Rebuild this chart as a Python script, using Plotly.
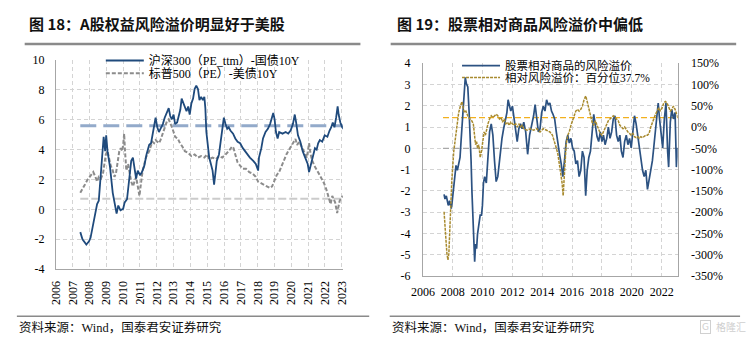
import plotly.graph_objects as go

W, H = 749, 353

# ---------------- data: left panel (图18) ----------------
cn_years = [2007.45, 2007.58, 2007.81, 2007.97, 2008.06, 2008.22, 2008.35, 2008.45, 2008.55, 2008.64,
            2008.74, 2008.84, 2008.93, 2008.99, 2009.07, 2009.22, 2009.38, 2009.51, 2009.61, 2009.71,
            2009.84, 2010.0, 2010.09, 2010.23, 2010.35, 2010.48, 2010.58, 2010.68, 2010.77, 2010.87,
            2011.0, 2011.12, 2011.26, 2011.39, 2011.55, 2011.66, 2011.74, 2011.84, 2011.93, 2012.03,
            2012.13, 2012.22, 2012.36, 2012.47, 2012.61, 2012.71, 2012.8, 2012.9, 2013.0, 2013.09,
            2013.21, 2013.29, 2013.4, 2013.48, 2013.58, 2013.67, 2013.77, 2013.87, 2013.96, 2014.06,
            2014.16, 2014.25, 2014.35, 2014.45, 2014.54, 2014.64, 2014.74, 2014.83, 2014.89, 2014.95,
            2015.03, 2015.12, 2015.22, 2015.32, 2015.41, 2015.49, 2015.57, 2015.7, 2015.8, 2015.9,
            2015.99, 2016.09, 2016.19, 2016.28, 2016.38, 2016.54, 2016.67, 2016.81, 2016.96, 2017.12,
            2017.25, 2017.39, 2017.54, 2017.74, 2017.89, 2018.03, 2018.08, 2018.22, 2018.32, 2018.47,
            2018.61, 2018.74, 2018.86, 2018.93, 2019.01, 2019.09, 2019.19, 2019.28, 2019.48, 2019.67,
            2019.82, 2019.96, 2020.1, 2020.21, 2020.29, 2020.4, 2020.54, 2020.68, 2020.83, 2020.98,
            2021.06, 2021.18, 2021.31, 2021.41, 2021.51, 2021.6, 2021.7, 2021.84, 2021.99, 2022.15,
            2022.28, 2022.38, 2022.47, 2022.57, 2022.67, 2022.76, 2022.82, 2022.92, 2023.03, 2023.11]
cn_erp = [-1.52, -2.0, -2.35, -2.14, -1.9, -1.03, -0.17, 0.36, 0.58, 1.75,
          3.25, 4.86, 3.9, 4.96, 3.9, 2.82, 1.11, 0.26, -0.28, 0.26,
          -0.06, 0.04, 0.47, 0.68, 1.75, 3.25, 3.47, 2.72, 2.07, 2.6,
          2.29, 2.5, 2.93, 3.68, 4.32, 4.43, 4.96, 5.5, 6.14, 5.5,
          5.18, 5.39, 5.71, 6.14, 6.57, 6.78, 6.25, 6.03, 6.35, 5.71,
          5.82, 6.25, 6.67, 7.42, 7.1, 6.78, 6.57, 6.89, 6.35, 7.1,
          7.42, 8.06, 8.28, 8.06, 7.32, 7.53, 7.32, 7.53, 6.78, 5.18,
          4.1, 3.47, 3.04, 2.6, 1.65, 2.72, 3.25, 3.68, 4.43, 5.39,
          6.14, 5.71, 5.39, 5.5, 5.28, 5.07, 4.75, 4.53, 4.43, 4.1,
          3.9, 3.68, 3.47, 3.25, 3.04, 2.6, 3.47, 4.1, 4.75, 5.18,
          5.39, 5.71, 6.14, 6.46, 6.03, 5.18, 4.75, 5.18, 5.07, 5.18,
          5.07, 5.28, 5.71, 6.35, 5.82, 4.96, 4.53, 3.9, 3.47, 3.04,
          2.5, 3.04, 3.57, 4.1, 4.0, 4.43, 4.64, 4.53, 4.96, 4.86,
          5.28, 5.5, 5.82, 5.5, 6.14, 6.89, 6.35, 5.82, 5.5, 5.39]

us_years = [2007.45, 2007.58, 2007.72, 2007.87, 2008.06, 2008.22, 2008.35, 2008.45, 2008.55, 2008.68,
            2008.8, 2008.88, 2008.97, 2009.07, 2009.19, 2009.26, 2009.38, 2009.48, 2009.57, 2009.67,
            2009.77, 2009.86, 2009.94, 2010.0, 2010.06, 2010.11, 2010.19, 2010.29, 2010.38, 2010.48,
            2010.58, 2010.68, 2010.77, 2010.87, 2010.97, 2011.06, 2011.16, 2011.26, 2011.35, 2011.45,
            2011.55, 2011.64, 2011.74, 2011.84, 2011.93, 2012.03, 2012.13, 2012.22, 2012.32, 2012.42,
            2012.51, 2012.61, 2012.71, 2012.8, 2012.9, 2013.0, 2013.09, 2013.25, 2013.38, 2013.52,
            2013.67, 2013.87, 2014.06, 2014.25, 2014.45, 2014.64, 2014.83, 2014.99, 2015.12, 2015.32,
            2015.51, 2015.7, 2015.9, 2016.09, 2016.28, 2016.48, 2016.57, 2016.67, 2016.81, 2016.96,
            2017.12, 2017.31, 2017.5, 2017.7, 2017.89, 2018.03, 2018.22, 2018.41, 2018.61, 2018.74,
            2018.86, 2018.99, 2019.13, 2019.28, 2019.44, 2019.57, 2019.71, 2019.82, 2019.96, 2020.1,
            2020.25, 2020.35, 2020.48, 2020.64, 2020.79, 2020.93, 2021.06, 2021.14, 2021.22, 2021.37,
            2021.51, 2021.64, 2021.8, 2021.95, 2022.09, 2022.22, 2022.34, 2022.44, 2022.53, 2022.61,
            2022.73, 2022.8, 2022.88, 2022.99, 2023.07]
us_erp = [1.11, 1.33, 1.65, 1.97, 2.29, 2.5, 2.18, 1.86, 2.18, 2.07,
          2.4, 3.04, 3.68, 3.9, 3.25, 2.93, 2.61, 2.18, 2.4, 3.25,
          3.9, 4.1, 3.9, 4.32, 5.07, 3.9, 2.6, 3.04, 2.4, 1.86,
          1.54, 1.86, 2.18, 1.54, 0.9, 1.75, 2.6, 3.04, 3.47, 3.68,
          3.9, 4.21, 4.53, 4.43, 4.64, 4.53, 4.43, 4.64, 4.96, 5.18,
          5.6, 5.92, 6.03, 5.71, 5.5, 5.18, 4.86, 4.75, 4.43, 4.21,
          3.9, 3.79, 3.57, 3.68, 3.47, 3.57, 3.47, 3.68, 3.36, 3.47,
          3.36, 3.57, 3.47, 3.68, 3.9, 4.21, 4.1, 3.68, 3.14, 2.93,
          2.72, 2.72, 2.5, 2.4, 2.18, 1.86, 1.75, 1.65, 1.54, 1.43,
          1.54, 1.97, 2.29, 2.5, 2.93, 3.36, 3.68, 3.9, 4.21, 4.43,
          4.71, 4.32, 4.53, 4.1, 3.79, 3.47, 4.43, 3.79, 3.36, 2.93,
          2.6, 2.4, 2.07, 1.75, 1.33, 0.9, 0.36, 0.9, 0.68, 0.47,
          -0.24, 0.26, 0.58, 0.79, 0.9]

cn_mean = 5.6
us_mean = 0.72

left_x_ticks = [2006, 2007, 2008, 2009, 2010, 2011, 2012, 2013, 2014, 2015,
                2016, 2017, 2018, 2019, 2020, 2021, 2022, 2023]
left_x_labels = [str(v) for v in left_x_ticks]
left_y_ticks = [-4, -2, 0, 2, 4, 6, 8, 10]
left_y_labels = ["-4", "-2", "0", "2", "4", "6", "8", "10"]

# ---------------- data: right panel (图19) ----------------
rel_years = [2007.42, 2007.48, 2007.57, 2007.70, 2007.79, 2007.90, 2007.96, 2008.05, 2008.14, 2008.22,
             2008.31, 2008.40, 2008.49, 2008.57, 2008.66, 2008.75, 2008.84, 2008.92, 2009.01, 2009.10,
             2009.16, 2009.23, 2009.29, 2009.36, 2009.42, 2009.47, 2009.53, 2009.60, 2009.66, 2009.75,
             2009.84, 2009.93, 2009.99, 2010.06, 2010.14, 2010.25, 2010.36, 2010.47, 2010.58, 2010.69,
             2010.80, 2010.91, 2011.02, 2011.10, 2011.19, 2011.30, 2011.41, 2011.52, 2011.63, 2011.71,
             2011.80, 2011.89, 2012.00, 2012.11, 2012.22, 2012.32, 2012.43, 2012.54, 2012.65, 2012.76,
             2012.89, 2013.02, 2013.15, 2013.31, 2013.42, 2013.52, 2013.63, 2013.74, 2013.85, 2013.96,
             2014.07, 2014.18, 2014.29, 2014.40, 2014.51, 2014.62, 2014.72, 2014.83, 2014.94, 2015.05,
             2015.16, 2015.27, 2015.38, 2015.49, 2015.60, 2015.71, 2015.81, 2015.92, 2016.03, 2016.14,
             2016.25, 2016.36, 2016.47, 2016.58, 2016.69, 2016.80, 2016.91, 2017.01, 2017.12, 2017.23,
             2017.34, 2017.45, 2017.56, 2017.67, 2017.78, 2017.89, 2018.00, 2018.10, 2018.21, 2018.32,
             2018.43, 2018.54, 2018.65, 2018.76, 2018.87, 2018.98, 2019.09, 2019.20, 2019.30, 2019.41,
             2019.52, 2019.63, 2019.74, 2019.85, 2019.96, 2020.07, 2020.18, 2020.29, 2020.39, 2020.50,
             2020.61, 2020.72, 2020.83, 2020.94, 2021.05, 2021.16, 2021.27, 2021.38, 2021.49, 2021.59,
             2021.70, 2021.77, 2021.86, 2021.97, 2022.07, 2022.18, 2022.29, 2022.40, 2022.47, 2022.58,
             2022.68, 2022.79, 2022.90, 2022.99, 2023.08]
rel_erp = [-2.16, -2.38, -2.23, -2.68, -2.46, -2.83, -2.53, -1.93, -1.33, -0.8,
           -1.03, -0.73, -0.43, 0.47, 1.38, 2.58, 3.33, 3.03, 2.88, 1.68,
           0.77, -0.58, -2.08, -3.44, -4.64, -5.32, -4.49, -4.71, -4.04, -3.44,
           -3.14, -3.14, -2.68, -1.63, -1.33, -1.63, -0.12, 0.77, 1.15, 0.62,
           -0.58, -1.56, -1.33, -0.73, -0.13, 0.47, 0.92, 1.38, 1.68, 2.28,
           1.98, 1.75, 1.98, 1.38, 0.92, 0.32, 0.92, 1.15, 0.92, 1.23,
           0.77, -0.28, 0.62, 1.08, 1.53, 2.05, 1.38, 0.77, 0.92, 1.68,
           1.98, 1.75, 2.28, 2.05, 2.13, 1.75, 1.6, 1.38, 0.77, 0.17,
           -0.28, -0.73, -1.33, -0.58, 0.32, 0.62, 0.25, 0.47, 0.02, -0.13,
           -0.73, -0.58, -1.33, -1.03, -0.13, -0.43, -2.23, -1.03, -0.43, -0.13,
           0.77, 1.6, 1.08, 0.55, 0.32, 0.77, 0.32, 0.62, 0.17, 0.47,
           1.0, 0.47, 0.77, 1.38, 1.53, 0.62, 0.32, 0.62, -0.13, -0.43,
           0.32, 0.62, 0.17, 0.47, 0.02, 0.92, 1.53, 1.15, 0.62, -0.13,
           -0.58, -1.03, -1.33, -1.03, -1.93, -1.48, -1.18, -0.58, 0.17, 0.77,
           1.68, 2.13, 1.38, 0.62, 0.02, 1.38, 2.13, -0.13, -0.88, 1.23,
           1.83, 1.38, 1.68, -0.88, 0.02]

pct_years = [2007.42, 2007.48, 2007.55, 2007.61, 2007.68, 2007.74, 2007.81, 2007.88, 2007.94, 2008.01,
             2008.07, 2008.18, 2008.29, 2008.40, 2008.51, 2008.62, 2008.70, 2008.79, 2008.88, 2008.97,
             2009.05, 2009.16, 2009.27, 2009.38, 2009.45, 2009.53, 2009.60, 2009.66, 2009.75, 2009.84,
             2009.93, 2010.01, 2010.10, 2010.19, 2010.27, 2010.36, 2010.47, 2010.58, 2010.69, 2010.80,
             2010.91, 2011.02, 2011.13, 2011.23, 2011.34, 2011.45, 2011.56, 2011.67, 2011.78, 2011.89,
             2012.00, 2012.11, 2012.22, 2012.32, 2012.43, 2012.54, 2012.65, 2012.76, 2012.98, 2013.20,
             2013.42, 2013.63, 2013.85, 2014.07, 2014.29, 2014.51, 2014.68, 2014.83, 2014.94, 2015.05,
             2015.16, 2015.27, 2015.33, 2015.40, 2015.47, 2015.53, 2015.60, 2015.71, 2015.81, 2015.92,
             2016.03, 2016.14, 2016.25, 2016.36, 2016.47, 2016.58, 2016.69, 2016.80, 2016.91, 2017.01,
             2017.12, 2017.23, 2017.34, 2017.45, 2017.56, 2017.67, 2017.78, 2017.89, 2018.00, 2018.10,
             2018.21, 2018.32, 2018.43, 2018.54, 2018.65, 2018.76, 2018.87, 2018.98, 2019.09, 2019.20,
             2019.30, 2019.41, 2019.52, 2019.63, 2019.74, 2019.85, 2019.96, 2020.07, 2020.18, 2020.29,
             2020.39, 2020.50, 2020.61, 2020.72, 2020.83, 2020.94, 2021.05, 2021.16, 2021.27, 2021.38,
             2021.49, 2021.59, 2021.70, 2021.81, 2021.92, 2022.03, 2022.14, 2022.25, 2022.36, 2022.47,
             2022.58, 2022.68, 2022.79, 2022.90, 2023.01, 2023.08]
pct_erp = [-199, -222, -267, -297, -312, -297, -252, -176.5, -124, -86.5,
           -56.5, -26.5, 4, 34, 49, 60, 45, 34, 37.5, 26.5,
           22.5, 19, 15, 7.5, -19, -41.5, -34, -49, -41.5, -71.5,
           -56.5, -26.5, -11.5, -19, -4, 7.5, 19, 26.5, 22.5, 26.5,
           30, 26.5, 19, 22.5, 11.5, 19, 7.5, 11.5, 4, 11.5,
           7.5, 4, 7.5, 0, 7.5, 0, 4, -4, -7.5, -4,
           -7.5, -4, -11.5, -4, -7.5, -11.5, -19, -34, -49, -64,
           -86.5, -109, -131.5, -161.5, -124, -79, -41.5, -19, -11.5, 4,
           15, 26.5, 37.5, 41.5, 37.5, 41.5, 49, 64, 73, 60,
           41.5, 26.5, 11.5, 4, 15, 4, -7.5, -15, -19, -11.5,
           0, 7.5, 15, 19, 22.5, 26.5, 22.5, 19, 15, 4,
           0, -4, 0, -7.5, -11.5, -15, -19, -15, -22.5, -25,
           -22.5, -26.5, -22.5, -25, -22.5, -19, -19, -15, 0, 11.5,
           19, 30, 37.5, 45, 37.5, 45, 56.5, 60, 56.5, 45,
           37.5, 41.5, 49, 41.5, 30, 22.5]

rel_mean = 1.44       # left axis units (orange dashed line)
rel_zero = 0.0        # grey dashed line
line_span = [2007.35, 2023.1]

right_x_ticks = [2006, 2008, 2010, 2012, 2014, 2016, 2018, 2020, 2022]
right_x_labels = [str(v) for v in right_x_ticks]
right_y_ticks = [-6, -5, -4, -3, -2, -1, 0, 1, 2, 3, 4]
right_y_labels = ["-6", "-5", "-4", "-3", "-2", "-1", "0", "1", "2", "3", "4"]
right_y2_ticks = [-350, -300, -250, -200, -150, -100, -50, 0, 50, 100, 150]
right_y2_labels = ["-350%", "-300%", "-250%", "-200%", "-150%", "-100%", "-50%", "0%", "50%", "100%", "150%"]

# ---------------- helpers ----------------
def fx(p):
    return p / W


def fy(p):
    return 1 - p / H


SERIF = "Liberation Serif, Noto Sans CJK SC"
CJK = "Noto Sans CJK SC"
NAVY = "#1F4A7C"
GRID = "#D4D4D4"
AXIS = "#A6A6A6"

fig = go.Figure()

# --- left panel reference lines ---
fig.add_trace(go.Scatter(x=[cn_years[0], cn_years[-1]], y=[cn_mean, cn_mean], mode="lines",
                         line=dict(color="#93AACA", width=3, dash="16px,7px"),
                         showlegend=False, hoverinfo="skip", xaxis="x", yaxis="y"))
fig.add_trace(go.Scatter(x=[cn_years[0], cn_years[-1]], y=[us_mean, us_mean], mode="lines",
                         line=dict(color="#CBCBCB", width=2, dash="8px,3px"),
                         showlegend=False, hoverinfo="skip", xaxis="x", yaxis="y"))
# --- left panel series ---
fig.add_trace(go.Scatter(x=us_years, y=us_erp, mode="lines", name="标普500（PE）-美债10Y",
                         line=dict(color="#8C8C8C", width=2, dash="4px,2px"),
                         xaxis="x", yaxis="y", legend="legend2"))
fig.add_trace(go.Scatter(x=cn_years, y=cn_erp, mode="lines", name="沪深300（PE_ttm）-国债10Y",
                         line=dict(color=NAVY, width=1.8),
                         xaxis="x", yaxis="y", legend="legend"))

# --- right panel reference lines ---
fig.add_trace(go.Scatter(x=line_span, y=[rel_zero, rel_zero], mode="lines",
                         line=dict(color="#A8A8A8", width=1.2, dash="6px,4px"),
                         showlegend=False, hoverinfo="skip", xaxis="x2", yaxis="y2"))
fig.add_trace(go.Scatter(x=line_span, y=[rel_mean, rel_mean], mode="lines",
                         line=dict(color="#F2B01E", width=1.3, dash="6px,3px"),
                         showlegend=False, hoverinfo="skip", xaxis="x2", yaxis="y2"))
# --- right panel series ---
fig.add_trace(go.Scatter(x=pct_years, y=pct_erp, mode="lines", name="相对风险溢价：百分位37.7%",
                         line=dict(color="#A88A2E", width=1.5, dash="3px,1px"),
                         xaxis="x2", yaxis="y3", legend="legend4"))
fig.add_trace(go.Scatter(x=rel_years, y=rel_erp, mode="lines", name="股票相对商品的风险溢价",
                         line=dict(color="#2C5282", width=1.7),
                         xaxis="x2", yaxis="y2", legend="legend3"))

tickfont = dict(family=SERIF, size=12, color="#000000")

fig.update_layout(
    width=W, height=H, autosize=False,
    margin=dict(l=0, r=0, t=0, b=0),
    paper_bgcolor="white", plot_bgcolor="white",
    font=dict(family=SERIF, size=12, color="#000000"),
    xaxis=dict(domain=[fx(45), fx(339)], range=[2006, 2023.07], anchor="y",
               tickmode="array", tickvals=left_x_ticks, ticktext=left_x_labels,
               tickangle=-90, tickfont=tickfont, ticks="", ticklabelstandoff=6,
               showgrid=True, gridcolor=GRID, griddash="4px,3px", gridwidth=1,
               showline=True, linecolor=AXIS, linewidth=1, zeroline=False),
    yaxis=dict(domain=[fy(273), fy(55.2)], range=[-4, 10], anchor="x",
               tickmode="array", tickvals=left_y_ticks, ticktext=left_y_labels,
               tickfont=tickfont, ticks="", ticklabelstandoff=8,
               showgrid=True, gridcolor=GRID, griddash="4px,3px", gridwidth=1,
               showline=True, linecolor=AXIS, linewidth=1, zeroline=False),
    xaxis2=dict(domain=[fx(421), fx(682)], range=[2006, 2023.07], anchor="y2",
                tickmode="array", tickvals=right_x_ticks, ticktext=right_x_labels,
                tickangle=0, tickfont=tickfont, ticks="", ticklabelstandoff=5,
                showgrid=True, gridcolor=GRID, griddash="4px,3px", gridwidth=1,
                showline=True, linecolor=AXIS, linewidth=1, zeroline=False),
    yaxis2=dict(domain=[fy(280.2), fy(58.5)], range=[-6, 4], anchor="x2",
                tickmode="array", tickvals=right_y_ticks, ticktext=right_y_labels,
                tickfont=tickfont, ticks="", ticklabelstandoff=9,
                showgrid=True, gridcolor=GRID, griddash="4px,3px", gridwidth=1,
                showline=True, linecolor=AXIS, linewidth=1, zeroline=False),
    yaxis3=dict(domain=[fy(280.2), fy(58.5)], range=[-350, 150], anchor="x2",
                overlaying="y2", side="right",
                tickmode="array", tickvals=right_y2_ticks, ticktext=right_y2_labels,
                tickfont=tickfont, ticks="", ticklabelstandoff=10,
                showgrid=False, showline=True, linecolor=AXIS, linewidth=1, zeroline=False),
    legend=dict(x=fx(91), y=fy(55.7), xanchor="left", yanchor="middle",
                bgcolor="rgba(0,0,0,0)", font=dict(family=SERIF, size=12),
                itemwidth=38, borderwidth=0),
    legend2=dict(x=fx(91), y=fy(69), xanchor="left", yanchor="middle",
                 bgcolor="rgba(0,0,0,0)", font=dict(family=SERIF, size=12),
                 itemwidth=38, borderwidth=0),
    legend3=dict(x=fx(456), y=fy(61), xanchor="left", yanchor="middle",
                 bgcolor="rgba(0,0,0,0)", font=dict(family=SERIF, size=11.5),
                 itemwidth=38, borderwidth=0),
    legend4=dict(x=fx(456), y=fy(73.5), xanchor="left", yanchor="middle",
                 bgcolor="rgba(0,0,0,0)", font=dict(family=SERIF, size=11.5),
                 itemwidth=38, borderwidth=0),
    showlegend=True,
)

# titles
fig.add_annotation(x=fx(15), y=fy(17), xref="paper", yref="paper", xanchor="left", yanchor="middle",
                   text="<b>图 18：A股权益风险溢价明显好于美股</b>", showarrow=False,
                   font=dict(family=CJK, size=15, color="#111111"))
fig.add_annotation(x=fx(392), y=fy(17), xref="paper", yref="paper", xanchor="left", yanchor="middle",
                   text="<b>图 19：股票相对商品风险溢价中偏低</b>", showarrow=False,
                   font=dict(family=CJK, size=15, color="#111111"))
# sources
fig.add_annotation(x=fx(5), y=fy(334), xref="paper", yref="paper", xanchor="left", yanchor="middle",
                   text="资料来源：Wind，国泰君安证券研究", showarrow=False,
                   font=dict(family=SERIF, size=12.5, color="#111111"))
fig.add_annotation(x=fx(387), y=fy(334), xref="paper", yref="paper", xanchor="left", yanchor="middle",
                   text="资料来源：Wind，国泰君安证券研究", showarrow=False,
                   font=dict(family=SERIF, size=12.5, color="#111111"))
# watermark
fig.add_annotation(x=fx(711), y=fy(333), xref="paper", yref="paper", xanchor="center", yanchor="middle",
                   text="G", showarrow=False, bordercolor="#D0D0D0", borderwidth=1, borderpad=1,
                   font=dict(family="DejaVu Sans", size=9, color="#CFCFCF"))
fig.add_annotation(x=fx(719), y=fy(333), xref="paper", yref="paper", xanchor="left", yanchor="middle",
                   text="格隆汇", showarrow=False,
                   font=dict(family=CJK, size=10, color="#CFCFCF"))

# separator rules
for x0, x1, yy, wdt in [(13, 357, 38.5, 2.5), (388, 742, 38.5, 2.5),
                         (5, 366, 322, 1.3), (387, 746, 322, 1.3)]:
    fig.add_shape(type="line", xref="paper", yref="paper",
                  x0=fx(x0), x1=fx(x1), y0=fy(yy), y1=fy(yy),
                  line=dict(color="#8A8A8A", width=wdt))

fig.write_html("out.html")
